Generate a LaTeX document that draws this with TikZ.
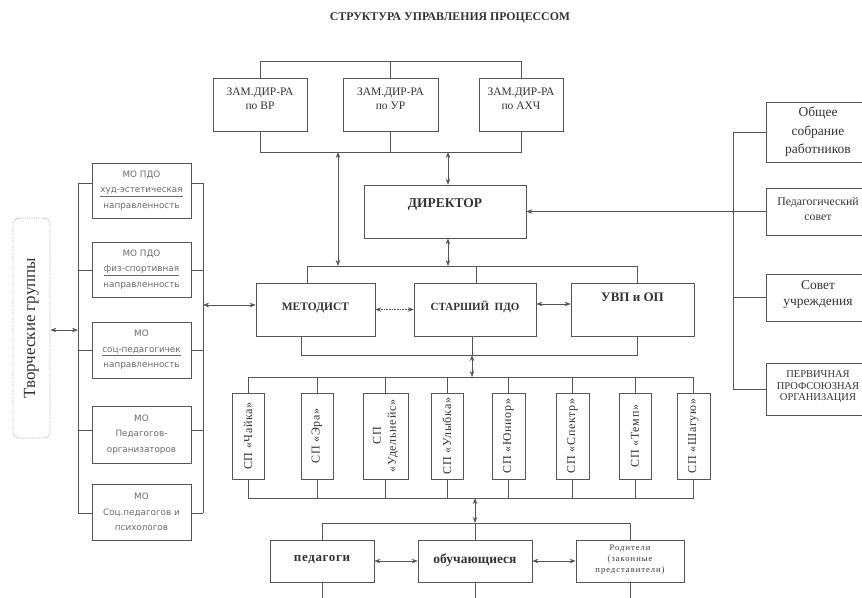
\documentclass[tikz,border=0pt]{standalone}
\usepackage{fontspec}
\setmainfont{Liberation Serif}
\newfontfamily\mofont{DejaVu Sans}
\usetikzlibrary{arrows.meta,calc}
\definecolor{lc}{HTML}{555555}
\definecolor{tc}{HTML}{333333}
\definecolor{mc}{HTML}{6A6A6A}
\begin{document}
\begin{tikzpicture}[x=1pt,y=-1pt,
  ln/.style={draw=lc, line width=0.6pt},
  box/.style={draw=lc, line width=0.6pt, inner sep=0pt, align=center},
  txt/.style={text=tc, align=center, inner sep=0pt, font=\fontsize{12}{14}\selectfont},
  motxt/.style={text=mc, align=center, inner sep=0pt, font=\mofont\fontsize{8.8}{15.5}\selectfont},
  sptxt/.style={txt, rotate=90, font=\fontsize{12}{15}\selectfont\addfontfeatures{LetterSpace=6}},
  tip/.tip={Stealth[length=6pt,width=4.5pt]},
  arr/.style={ln, {tip}-{tip}},
  arrr/.style={ln, -{tip}}
]
\useasboundingbox (0,0) rectangle (862,597);
% title
\node[txt, font=\bfseries\fontsize{11.8}{13}\selectfont] (title) at (450,18) {СТРУКТУРА УПРАВЛЕНИЯ ПРОЦЕССОМ};

% bus coordinates
\coordinate (b1) at (0,61);
\coordinate (b2) at (0,152);
\coordinate (b3) at (0,266);
\coordinate (b4) at (0,355);
\coordinate (b5) at (0,377);
\coordinate (b6) at (0,498);
\coordinate (b7) at (0,523);
\coordinate (bot) at (0,600);

% top deputies
\node[box, minimum width=94, minimum height=53] (vr) at (260,104.5) {};
\node[box, minimum width=95, minimum height=53] (ur) at (390.5,104.5) {};
\node[box, minimum width=84, minimum height=53] (axc) at (521,104.5) {};
\node[txt, font=\fontsize{11.5}{13.5}\selectfont] at ($(vr)+(0,-6)$) {ЗАМ.ДИР-РА\\по ВР};
\node[txt, font=\fontsize{11.5}{13.5}\selectfont] at ($(ur)+(0,-6)$) {ЗАМ.ДИР-РА\\по УР};
\node[txt, font=\fontsize{11.5}{13.5}\selectfont] at ($(axc)+(0,-6)$) {ЗАМ.ДИР-РА\\по АХЧ};
\draw[ln] (vr.north) -- (vr.north |- b1) -- (axc.north |- b1) -- (axc.north);
\draw[ln] (ur.north) -- (ur.north |- b1);
\draw[ln] (vr.south) -- (vr.south |- b2) -- (axc.south |- b2) -- (axc.south);
\draw[ln] (ur.south) -- (ur.south |- b2);

% director
\node[box, minimum width=162, minimum height=53] (dir) at (445,211.5) {};
\node[txt, font=\bfseries\fontsize{13.5}{15}\selectfont] at ($(dir)+(0,-7)$) {ДИРЕКТОР};
\coordinate (xa) at (338,0);
\coordinate (xb) at (448,0);
\draw[arr] (xa |- b2) -- (xa |- b3);
\draw[arr] (xb |- b2) -- (xb |- dir.north);
\draw[arr] (xb |- dir.south) -- (xb |- b3);

% middle row
\node[box, minimum width=119, minimum height=53] (met) at (315.5,309.5) {};
\node[box, minimum width=122, minimum height=53] (st) at (475,309.5) {};
\node[box, minimum width=123, minimum height=53] (uvp) at (632.5,309.5) {};
\node[txt, font=\bfseries\fontsize{11.5}{13}\selectfont] at ($(met)+(0,-2)$) {МЕТОДИСТ};
\node[txt, font=\bfseries\fontsize{11}{13}\selectfont] at ($(st)+(0,-3)$) {СТАРШИЙ \ ПДО};
\node[txt, font=\bfseries\fontsize{13}{15}\selectfont] at ($(uvp)+(0,-12)$) {УВП и ОП};
\coordinate (m1) at (307,0);
\coordinate (m2) at (476,0);
\coordinate (m3) at (637,0);
\coordinate (n1) at (301,0);
\coordinate (n2) at (472,0);
\draw[ln] (m1 |- met.north) -- (m1 |- b3) -- (m3 |- b3) -- (m3 |- uvp.north);
\draw[ln] (m2 |- b3) -- (m2 |- st.north);
\draw[ln] (n1 |- met.south) -- (n1 |- b4) -- (m3 |- b4) -- (m3 |- uvp.south);
\draw[ln] (n2 |- st.south) -- (n2 |- b4);
\draw[arr, densely dotted] (met.east) -- (st.west);
\coordinate (ys) at (0,304);
\draw[arr] (st.east |- ys) -- (uvp.west |- ys);
\draw[arr] (n2 |- b4) -- (n2 |- b5);

% SP units
\foreach \i/\cx/\w in {1/248/32, 2/317/32, 3/385.5/45, 4/447/32, 5/508.5/33, 6/572.5/33, 7/635/32, 8/693.5/33} {
  \node[box, minimum width=\w, minimum height=86] (sp\i) at (\cx,436) {};
  \draw[ln] (sp\i.north) -- (sp\i.north |- b5);
  \draw[ln] (sp\i.south) -- (sp\i.south |- b6);
}
\draw[ln] (sp1.north |- b5) -- (sp8.north |- b5);
\draw[ln] (sp1.south |- b6) -- (sp8.south |- b6);
\node[sptxt] at (sp1) {СП «Чайка»};
\node[sptxt] at (sp2) {СП «Эра»};
\node[sptxt] at (sp3) {СП\\«Удельнейс»};
\node[sptxt] at (sp4) {СП «Улыбка»};
\node[sptxt] at (sp5) {СП «Юниор»};
\node[sptxt] at (sp6) {СП «Спектр»};
\node[sptxt] at (sp7) {СП «Темп»};
\node[sptxt] at (sp8) {СП «Шагую»};

% bottom row
\node[box, minimum width=104, minimum height=42] (ped) at (322,561) {};
\node[box, minimum width=114, minimum height=42] (ob) at (475,561) {};
\node[box, minimum width=108, minimum height=42] (rod) at (630,561) {};
\node[txt, font=\bfseries\fontsize{13}{15}\selectfont\addfontfeatures{LetterSpace=5}] at ($(ped)+(0,-1)$) {педагоги};
\node[txt, font=\bfseries\fontsize{13.5}{15}\selectfont] at ($(ob)+(0,-1)$) {обучающиеся};
\node[txt, font=\fontsize{8.5}{11}\selectfont\addfontfeatures{LetterSpace=12}] at ($(rod)+(0,-1)$) {Родители\\(законные\\представители)};
\draw[arr] (ob.north |- b6) -- (ob.north |- b7);
\draw[ln] (ped.north) -- (ped.north |- b7) -- (rod.north |- b7) -- (rod.north);
\draw[ln] (ob.north |- b7) -- (ob.north);
\draw[arr] (ped.east) -- (ob.west);
\draw[arr] (ob.east) -- (rod.west);
\draw[ln] (ped.south) -- (ped.south |- bot);
\draw[ln] (ob.south) -- (ob.south |- bot);
\draw[ln] (rod.south) -- (rod.south |- bot);

% left MO boxes
\coordinate (lb) at (78,0);
\coordinate (rb) at (203,0);
\node[box, minimum width=99, minimum height=55] (mo1) at (141.5,190.5) {};
\node[box, minimum width=99, minimum height=55] (mo2) at (141.5,269.5) {};
\node[box, minimum width=99, minimum height=56] (mo3) at (141.5,350) {};
\node[box, minimum width=99, minimum height=57] (mo4) at (141.5,434.5) {};
\node[box, minimum width=99, minimum height=56] (mo5) at (141.5,512) {};
\node[motxt] at (mo1) {МО ПДО\\\underline{худ-эстетическая}\\направленность};
\node[motxt] at (mo2) {МО ПДО\\\underline{физ-спортивная}\\направленность};
\node[motxt] at (mo3) {МО\\\underline{соц-педагогичек}\\направленность};
\node[motxt] at (mo4) {МО\\Педагогов-\\организаторов};
\node[motxt] at (mo5) {МО\\Соц.педагогов и\\психологов};
\foreach \i/\yy in {1/183, 2/270, 3/350, 4/430, 5/513} {
  \coordinate (c\i) at (0,\yy);
  \draw[ln] (lb |- c\i) -- (mo\i.west |- c\i);
  \draw[ln] (mo\i.east |- c\i) -- (rb |- c\i);
}
\draw[ln] (lb |- c1) -- (lb |- c5);
\draw[ln] (rb |- c1) -- (rb |- c5);
\coordinate (ym) at (0,305);
\draw[arr] (rb |- ym) -- (met.west |- ym);

% creative groups
\node[draw=gray!70, line width=0.8pt, densely dotted, rounded corners=6pt, minimum width=37, minimum height=220, inner sep=0pt] (tg) at (31.5,328) {};
\node[txt, rotate=90, font=\fontsize{17}{19}\selectfont] at (tg) {Творческие группы};
\coordinate (yt) at (0,330);
\draw[arr] (tg.east |- yt) -- (lb |- yt);

% right column
\coordinate (rr) at (733,0);
\node[box, minimum width=104, minimum height=60] (obs) at (818,132) {};
\node[box, minimum width=104, minimum height=47] (ps) at (818,211.5) {};
\node[box, minimum width=104, minimum height=47] (sov) at (818,297.5) {};
\node[box, minimum width=104, minimum height=52] (perv) at (818,389) {};
\node[txt, font=\fontsize{13.5}{18.5}\selectfont] at (obs) {Общее\\собрание\\работников};
\node[txt, font=\fontsize{11.8}{15}\selectfont] at ($(ps)+(0,-2)$) {Педагогический\\совет};
\node[txt, font=\fontsize{13.5}{15.5}\selectfont] at ($(sov)+(0,-3)$) {Совет\\учреждения};
\node[txt, font=\fontsize{10.5}{11.5}\selectfont] at ($(perv)+(0,-2)$) {ПЕРВИЧНАЯ\\ПРОФСОЮЗНАЯ\\ОРГАНИЗАЦИЯ};
\draw[ln] (rr |- obs.west) -- (rr |- perv.west);
\draw[ln] (rr |- obs.west) -- (obs.west);
\draw[ln] (rr |- ps.west) -- (ps.west);
\draw[ln] (rr |- sov.west) -- (sov.west);
\draw[ln] (rr |- perv.west) -- (perv.west);
\draw[arrr] (rr |- ps.west) -- (dir.east |- ps.west);
\end{tikzpicture}
\end{document}
